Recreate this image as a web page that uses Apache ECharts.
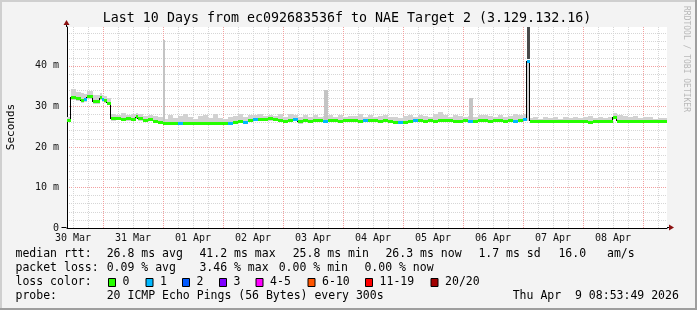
<!DOCTYPE html>
<html><head><meta charset="utf-8">
<script src="https://cdn.jsdelivr.net/npm/echarts@6/dist/echarts.min.js"></script>
<style>html,body{margin:0;padding:0;background:#f3f3f3}#c{width:697px;height:310px}</style>
</head><body><div id="c"></div>
<script>
// ---- data (hours since 30 Mar 00:00) ----
const plotStart = 9.6, plotEnd = 249.6;
const segStart = [9.6,11.2,13,15,16.4,17.6,20,22.6,23.6,24.4,25.4,27,29,31,33,35,37,38,40,42,44,46,48,
 50,52,54,56,58,60,62,64,66,68,70,72,74,76,78,80,82,
 84,86,88,90,92,94,96,98,100,102,104,106,108,110,112,114,116,118,120,122,124,126,128,130,132,134,136,138,140,142,144,146,148,150,152,154,156,158,160,162,164,166,168,170,172,174,176,178,180,182,184,186,188,190,192,
 193.6,
 194.8,196,198,200,202,204,206,208,210,212,214,216,218,220,222,224,226,228,229.6,232,234,236,238,240,242,244,246,248];
const median = [26.5,32.3,32.0,31.4,31.6,32.4,31.1,32.1,31.8,31.4,30.8,26.9,27.0,26.8,26.9,26.8,27.5,26.9,26.6,26.7,26.3,26.0,25.9,
 25.8,25.8,25.8,25.8,25.8,25.8,25.8,25.8,25.8,25.8,25.8,25.9,25.8,26.0,26.2,26.1,26.5,
 26.7,26.8,26.7,26.9,26.8,26.6,26.4,26.5,26.7,26.2,26.5,26.4,26.5,26.6,26.4,26.5,26.6,26.4,26.5,26.6,26.5,26.4,26.6,26.5,26.6,26.4,26.5,26.3,26.0,26.0,26.1,26.4,26.6,26.6,26.4,26.5,26.4,26.5,26.6,26.5,26.4,26.3,26.5,26.4,26.2,26.5,26.6,26.4,26.6,26.5,26.4,26.6,26.3,26.5,26.8,
 41.2,
 26.3,26.3,26.3,26.3,26.3,26.3,26.3,26.3,26.3,26.3,26.3,26.4,26.0,26.3,26.3,26.3,26.4,27.3,26.4,26.3,26.4,26.3,26.3,26.3,26.3,26.3,26.3,26.3];
const lossLevel = [0,0,0,0,1,0,0,0,1,0,0,0,0,0,0,0,0,0,0,0,0,0,0,
 0,0,1,0,0,0,0,0,0,0,0,0,1,0,0,1,0,
 1,0,0,0,0,0,0,0,1,0,0,0,0,0,1,0,0,0,0,0,0,0,1,0,0,0,0,0,0,1,0,0,1,0,0,0,0,0,0,0,0,0,0,1,0,0,0,0,0,0,0,0,1,0,1,
 1,
 0,0,0,0,0,0,0,0,0,0,0,0,0,0,0,0,0,0,0,0,0,0,0,0,0,0,0,0];
const smokeLo = [26.1,31.6,31.4,30.9,31.0,31.8,30.6,31.5,31.2,30.8,30.3,26.5,26.6,26.4,26.5,26.4,26.9,26.5,26.2,26.3,25.9,25.7,25.6,
 25.5,25.5,25.5,25.5,25.5,25.5,25.5,25.5,25.5,25.5,25.5,25.6,25.5,25.6,25.8,25.7,26.1,
 26.3,26.4,26.3,26.5,26.4,26.2,25.9,26.1,26.3,25.7,26.1,26.0,26.1,26.2,26.0,26.1,26.2,26.0,26.1,26.2,26.1,26.0,26.2,26.1,26.2,26.0,26.1,25.9,25.6,25.6,25.7,26.0,26.2,26.2,26.0,26.1,26.0,26.1,26.2,26.1,26.0,25.9,26.1,26.0,25.8,26.1,26.2,26.0,26.2,26.1,26.0,26.2,25.9,26.1,26.4,
 26.4,
 26.0,26.0,26.0,26.0,26.0,26.0,26.0,26.0,26.0,26.0,26.0,26.1,25.7,26.0,26.0,26.0,26.1,26.8,26.1,26.0,26.1,26.0,26.0,26.0,26.0,26.0,26.0,26.0];
const smokeHi = [27.4,34.4,33.6,33.4,33.0,33.8,32.9,33.2,32.8,32.6,32.1,28.2,28.0,28.3,27.8,28.1,28.4,28.2,27.6,28.0,27.6,27.4,27.0,
 27.8,27.1,27.6,28.2,27.3,26.9,27.6,28.0,27.2,28.1,27.2,27.0,27.3,27.7,28.1,27.5,28.0,
 27.8,28.1,27.7,28.0,27.6,28.1,27.5,28.2,27.8,27.5,27.9,27.4,27.9,27.5,27.6,27.8,27.5,28.0,27.4,27.7,27.6,28.1,27.5,27.8,27.4,27.7,27.9,27.5,27.3,27.2,27.6,27.8,27.5,28.0,27.7,27.4,28.1,28.6,27.8,27.5,27.9,27.6,27.4,27.7,27.5,27.8,28.0,27.6,27.5,27.9,27.4,27.7,28.2,27.8,28.1,
 41.2,
 27.1,27.3,27.0,27.4,27.2,27.5,27.0,27.3,27.1,27.4,27.2,27.4,27.7,27.2,27.5,27.1,27.4,28.4,27.8,27.6,27.3,27.7,27.1,27.3,27.4,27.0,27.1,27.2];
// single-probe smoke spikes
const spikeStart = [48.0, 112.4, 170.4];
const spikeEnd = [48.8, 114.0, 172.0];
const spikeLo = [26.0, 26.4, 26.4];
const spikeHi = [46.4, 34.0, 32.1];
// dense smoke above the 06 Apr peak
const burstStart = [193.6], burstEnd = [194.8], burstLo = [41.8], burstHi = [49.6];
// axes
const dayTicks = [24,48,72,96,120,144,168,192,216,240];
const labelHours = [12,36,60,84,108,132,156,180,204,228];
const dayLabels = ['30 Mar','31 Mar','01 Apr','02 Apr','03 Apr','04 Apr','05 Apr','06 Apr','07 Apr','08 Apr'];
const minorHours = [12,18,30,36,42,54,60,66,78,84,90,102,108,114,126,132,138,150,156,162,174,180,186,198,204,210,222,228,234,246];
const yMajor = [0,10,20,30,40];
const yMinor = [2,4,6,8,12,14,16,18,22,24,26,28,32,34,36,38,42,44,46,48];
const yMax = 49.6;
// legend
const lossNames = ['0','1','2','3','4-5','6-10','11-19','20/20'];
const lossColors = ['#26ff00','#00b8ff','#0059ff','#7e00ff','#ff00ff','#ff5500','#ff0000','#a10000'];
const rttStats = ['median rtt:','26.8 ms avg','41.2 ms max','25.8 ms min','26.3 ms now','1.7 ms sd','16.0','am/s'];
const lossStats = ['packet loss:','0.09 % avg','3.46 % max','0.00 % min','0.00 % now'];
const probeInfo = ['probe:','20 ICMP Echo Pings (56 Bytes) every 300s','Thu Apr  9 08:53:49 2026'];
const titleText = 'Last 10 Days from ec092683536f to NAE Target 2 (3.129.132.16)';

// ---- build ----
const segEnd = segStart.map((s,i)=> i < segStart.length-1 ? segStart[i+1] : plotEnd);
const smokeData = segStart.map((s,i)=>[s, segEnd[i], smokeLo[i], smokeHi[i]]);
const medData = segStart.map((s,i)=>[s, segEnd[i], median[i], lossLevel[i]]);
const stepData = segStart.slice(1).map((s,i)=>[s, median[i], median[i+1]]);
const spikeData = spikeStart.map((h,i)=>[h, spikeEnd[i], spikeLo[i], spikeHi[i]]);
const burstData = burstStart.map((s,i)=>[s, burstEnd[i], burstLo[i], burstHi[i]]);

const MONO = "'DejaVu Sans Mono', monospace";
const chart = echarts.init(document.getElementById('c'), null, {renderer:'canvas', width:697, height:310});

function rectItem(api, x0, x1, y0, y1, fill){
  const a = api.coord([x0, y1]), b = api.coord([x1, y0]);
  const xa = Math.round(a[0]), xb = Math.round(b[0]);
  const ya = Math.round(a[1]), yb = Math.round(b[1]);
  return {type:'rect', shape:{x:xa, y:ya, width:Math.max(1,xb-xa), height:Math.max(1,yb-ya)}, style:{fill}};
}

const option = {
  animation:false,
  backgroundColor:'#f3f3f3',
  grid:{left:67, top:27, width:600, height:201, containLabel:false, outerBoundsMode:'none', backgroundColor:'#ffffff', show:true, borderWidth:0},
  xAxis:[
    {type:'value', min:plotStart, max:plotEnd, position:'bottom',
     axisLine:{show:true, onZero:false, lineStyle:{color:'#000', width:1}},
     axisTick:{show:false, customValues:dayTicks},
     axisLabel:{show:true, customValues:labelHours, margin:5, color:'#111', fontFamily:MONO, fontSize:10,
       formatter:v=>dayLabels[labelHours.indexOf(v)] || ''},
     splitLine:{show:true, lineStyle:{color:'#f2a0a0', type:[1,1], width:1}}},
    {type:'value', min:plotStart, max:plotEnd, position:'bottom',
     axisLine:{show:false}, axisLabel:{show:false},
     axisTick:{show:false, customValues:minorHours},
     splitLine:{show:true, lineStyle:{color:'#d6d6d6', type:[1,1], width:1}}}
  ],
  yAxis:[
    {type:'value', min:0, max:yMax, position:'left',
     axisLine:{show:true, onZero:false, lineStyle:{color:'#000', width:1}},
     axisTick:{show:false, customValues:yMajor.slice(1)},
     axisLabel:{show:true, customValues:yMajor, margin:8, color:'#111', fontFamily:MONO, fontSize:10,
       formatter:v=> v===0 ? '0' : v+' m'},
     splitLine:{show:true, lineStyle:{color:'#f2a0a0', type:[1,1], width:1}}},
    {type:'value', min:0, max:yMax, position:'left',
     axisLine:{show:false}, axisLabel:{show:false},
     axisTick:{show:false, customValues:yMinor},
     splitLine:{show:true, lineStyle:{color:'#d6d6d6', type:[1,1], width:1}}}
  ],
  series:[
    {type:'custom', name:'smoke', xAxisIndex:0, yAxisIndex:0, data:smokeData, encode:{x:[0,1], y:[2,3]}, z:2,
     renderItem:(p,api)=>rectItem(api, api.value(0), api.value(1), api.value(2), api.value(3), '#d2d2d2')},
    {type:'custom', name:'spikes', data:spikeData, encode:{x:[0,1], y:[2,3]}, z:3,
     renderItem:(p,api)=>rectItem(api, api.value(0), api.value(1), api.value(2), api.value(3), '#c4c4c4')},
    {type:'custom', name:'burst', data:burstData, encode:{x:[0,1], y:[2,3]}, z:3,
     renderItem:(p,api)=>rectItem(api, api.value(0), api.value(1), api.value(2), api.value(3), '#4a4a4a')},
    {type:'custom', name:'steps', data:stepData, encode:{x:0, y:[1,2]}, z:4,
     renderItem:(p,api)=>{
       const a = api.coord([api.value(0), api.value(1)]), b = api.coord([api.value(0), api.value(2)]);
       const x = Math.round(a[0]) - 0.5;
       return {type:'line', shape:{x1:x, y1:Math.round(a[1]), x2:x, y2:Math.round(b[1])}, style:{stroke:'#000', lineWidth:1}};
     }},
    {type:'custom', name:'median', data:medData, encode:{x:[0,1], y:2}, z:5,
     renderItem:(p,api)=>{
       const a = api.coord([api.value(0), api.value(2)]), b = api.coord([api.value(1), api.value(2)]);
       const xa = Math.round(a[0]), xb = Math.round(b[0]);
       const y = Math.round(a[1] - 1.5);
       return {type:'rect', shape:{x:xa, y:y, width:xb-xa, height:3}, style:{fill:lossColors[api.value(3)]}};
     }}
  ]
};
chart.setOption(option);

// decorations: arrows, frame, texts
const g0 = chart.convertToPixel({gridIndex:0}, [plotStart, 0]);
const g1 = chart.convertToPixel({gridIndex:0}, [plotEnd, yMax]);
const ax = Math.round(g0[0]) - 0.5, ay = Math.round(g0[1]) - 0.5, rx = Math.round(g1[0]), ty = Math.round(g1[1]);
const ARROW = '#8a1010';
const gr = [
  {type:'rect', shape:{x:0,y:0,width:697,height:2}, style:{fill:'#cfcfcf'}, z:1},
  {type:'rect', shape:{x:0,y:0,width:2,height:310}, style:{fill:'#cfcfcf'}, z:1},
  {type:'rect', shape:{x:0,y:308,width:697,height:2}, style:{fill:'#9e9e9e'}, z:1},
  {type:'rect', shape:{x:695,y:0,width:2,height:310}, style:{fill:'#9e9e9e'}, z:1},
  {type:'line', shape:{x1:ax, y1:ty, x2:ax, y2:ty-4}, style:{stroke:'#000', lineWidth:1}, z:10},
  {type:'line', shape:{x1:rx, y1:ay, x2:rx+4, y2:ay}, style:{stroke:'#000', lineWidth:1}, z:10},
  {type:'line', shape:{x1:ax-5, y1:ay, x2:ax, y2:ay}, style:{stroke:'#000', lineWidth:1}, z:10},
  {type:'polygon', shape:{points:[[ax-3,ty-2],[ax+3,ty-2],[ax,ty-7]]}, style:{fill:ARROW}, z:10},
  {type:'polygon', shape:{points:[[rx+2,ay-3],[rx+2,ay+3],[rx+7,ay]]}, style:{fill:ARROW}, z:10},
  {type:'text', x:347, y:19, style:{text:titleText, font:"13.3px "+MONO, fill:'#000', align:'center', verticalAlign:'middle'}, z:10},
  {type:'text', x:11, y:127, rotation:Math.PI/2, style:{text:'Seconds', font:"11px "+MONO, fill:'#000', align:'center', verticalAlign:'middle'}, z:10},
  {type:'text', x:686, y:59, rotation:-Math.PI/2, style:{text:'RRDTOOL / TOBI OETIKER', font:"8px "+MONO, fill:'#b8b8b8', align:'center', verticalAlign:'middle'}, z:10}
];
const LF = "11.5px " + MONO;
function txt(t, x, y){ gr.push({type:'text', x:x, y:y, style:{text:t, font:LF, fill:'#000', align:'left', verticalAlign:'middle'}, z:10}); }
const rttX = [15.5,106.7,199.4,292.7,385.4,478.4,558.4,607];
rttStats.forEach((t,i)=>txt(t, rttX[i], 254));
const lossX = [15.5,106.7,199.4,278.7,364.4];
lossStats.forEach((t,i)=>txt(t, lossX[i], 268));
txt('loss color:', 15.5, 282);
const boxX = [108,145.5,182,219,255.5,307.5,365,430.5];
lossNames.forEach((n,i)=>{
  gr.push({type:'rect', shape:{x:boxX[i]+0.5, y:278.5, width:7, height:8}, style:{fill:lossColors[i], stroke:'#000', lineWidth:1}, z:10});
  txt(n, boxX[i]+14.6, 282);
});
const probeX = [15.5,106.7,512.7];
probeInfo.forEach((t,i)=>txt(t, probeX[i], 296));
chart.setOption({graphic:{elements:gr}});
</script>
</body></html>
